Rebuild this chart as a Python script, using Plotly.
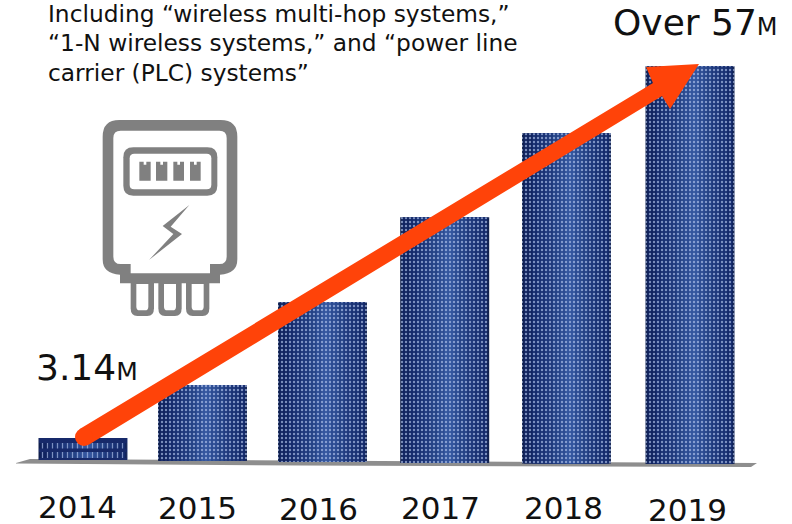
import plotly.graph_objects as go

# ---- data ----
years = [2014, 2015, 2016, 2017, 2018, 2019]
meters_millions = [3.14, 10.9, 22.9, 35.2, 47.3, 57]
first_label = "3.14"
last_label = "Over 57"
unit_label = "M"
note_lines = [
    "Including “wireless multi-hop systems,”",
    "“1-N wireless systems,” and “power line",
    "carrier (PLC) systems”",
]

# ---- layout constants ----
W, H = 792, 524
PX_PER_YEAR = 121.4
PX_PER_M = 6.98
X0_PX, Y0_PX = 83, 460
bar_drift_px = [0, -1.9, -3.3, -2.5, -2.1, 0]
bar_drop_px = [0, 1, 2, 3, 3.5, 4]
label_px = [(77, 506.5), (197, 507.5), (318, 508.5), (440, 508), (563, 508), (687, 509.5)]
BAR_W_PX = 89
gradient = [
    (1.00, "#101f4c"), (0.96, "#102360"), (0.86, "#142a6c"), (0.72, "#193174"),
    (0.56, "#1e387c"), (0.40, "#244286"), (0.24, "#2b4b92"), (0.10, "#33559e"),
]

def px(x, y):
    return x / W, 1 - y / H

def path(points, closed=True):
    out = []
    for i, p in enumerate(points):
        if p[0] == "Q":
            a = px(p[1], p[2]); b = px(p[3], p[4])
            out.append(f"Q{a[0]:.5f},{a[1]:.5f} {b[0]:.5f},{b[1]:.5f}")
        else:
            a = px(*p)
            out.append(("M" if i == 0 else "L") + f"{a[0]:.5f},{a[1]:.5f}")
    return " ".join(out) + (" Z" if closed else "")

def z(x, y):  # icon zoom coordinates to pixels
    return 80 + x / 3, 100 + y / 3

def rrect(x0, y0, x1, y1, r):
    return [
        (x0 + r, y0), (x1 - r, y0), ("Q", x1, y0, x1, y0 + r), (x1, y1 - r),
        ("Q", x1, y1, x1 - r, y1), (x0 + r, y1), ("Q", x0, y1, x0, y1 - r),
        (x0, y0 + r), ("Q", x0, y0, x0 + r, y0),
    ]

def zpoly(points):
    out = []
    for p in points:
        if p[0] == "Q":
            a = z(p[1], p[2]); b = z(p[3], p[4])
            out.append(("Q", a[0], a[1], b[0], b[1]))
        else:
            out.append(z(*p))
    return out

def zrrect(x0, y0, x1, y1, r):
    a = z(x0, y0); b = z(x1, y1)
    return rrect(a[0], a[1], b[0], b[1], r / 3)

GRAY = "#808080"
shapes = []
def fill(points, color, layer="above"):
    shapes.append(dict(type="path", xref="paper", yref="paper", path=path(points),
                       fillcolor=color, line=dict(width=0), layer=layer))

# baseline
fill([(16, 463), (30, 459), (757, 463), (751, 467), (300, 465.5), (16, 463.5)], "#8e8e8e", "below")

# darker bands that split the first short bar's dashes into rows
for y0, y1 in [(438, 443), (448.5, 452), (458, 460)]:
    fill([(39, y0), (127, y0), (127, y1), (39, y1)], "#17296a")

# meter icon: legs
for lx0, lx1 in [(152, 222), (235, 305), (318, 388)]:
    fill(zpoly([(lx0, 540), (lx1, 540), (lx1, 625), ("Q", lx1, 648, lx1 - 20, 648),
                (lx0 + 20, 648), ("Q", lx0, 648, lx0, 625)]), GRAY)
    fill(zpoly([(lx0 + 17, 552), (lx1 - 17, 552), (lx1 - 17, 620), ("Q", lx1 - 17, 631, lx1 - 27, 631),
                (lx0 + 27, 631), ("Q", lx0 + 17, 631, lx0 + 17, 620)]), "white")
# body
fill(zpoly([(118, 60), (422, 60), ("Q", 472, 60, 472, 110), (472, 478), ("Q", 472, 522, 420, 524),
            (420, 550), (120, 550), (120, 524), ("Q", 68, 522, 68, 478), (68, 110), ("Q", 68, 60, 118, 60)]), GRAY)
fill(zpoly([(122, 92), (418, 92), ("Q", 440, 92, 440, 114), (440, 470), ("Q", 440, 492, 418, 492),
            (390, 492), (390, 520), (152, 520), (152, 492), (122, 492), ("Q", 100, 492, 100, 470),
            (100, 114), ("Q", 100, 92, 122, 92)]), "white")
# display
fill(zrrect(130, 142, 412, 287, 30), GRAY)
fill(zrrect(149, 161, 394, 268, 14), "white")
for dx0, dx1 in [(178, 212), (228, 262), (280, 312), (330, 362)]:
    m = (dx0 + dx1) / 2
    fill(zpoly([(dx0, 185), (m - 4, 185), (m - 4, 194), (m + 4, 194), (m + 4, 185), (dx1, 185),
                (dx1, 242), (dx0, 242)]), GRAY)
# bolt
fill(zpoly([(328, 315), (248, 378), (280, 402), (207, 480), (306, 402), (272, 380)]), GRAY)

# orange arrow
ORANGE = "#ff4309"
fill([(79.3, 429.3), (653, 83), (646, 67), (699, 64), (670, 109), (662, 96), (88.7, 444.7)], ORANGE)
a = px(75, 428); b = px(93, 446)
shapes.append(dict(type="circle", xref="paper", yref="paper", x0=a[0], y0=a[1], x1=b[0], y1=b[1],
                   fillcolor=ORANGE, line=dict(width=0), layer="above"))

# ---- bars ----
bases = [-d / PX_PER_M for d in bar_drop_px]
traces = []
for frac, color in gradient:
    wpx = BAR_W_PX * frac
    centre_shift = 4 if frac < 0.9 else 0
    offs = [(d + centre_shift - wpx / 2) / PX_PER_YEAR for d in bar_drift_px]
    traces.append(go.Bar(x=years, y=meters_millions, base=bases, width=wpx / PX_PER_YEAR, offset=offs,
                         marker=dict(color=color, line=dict(width=0)), hoverinfo="skip", showlegend=False))
offs = [(d - BAR_W_PX / 2) / PX_PER_YEAR for d in bar_drift_px]
traces.append(go.Bar(
    x=years, y=meters_millions, base=bases, width=BAR_W_PX / PX_PER_YEAR, offset=offs,
    marker=dict(color="rgba(0,0,0,0)", line=dict(width=0),
                pattern=dict(shape=["|", ".", ".", ".", ".", "."], size=[5, 4, 4, 4, 4, 4],
                             solidity=[0.25, 0.28, 0.28, 0.28, 0.28, 0.28], fgcolor="#b4c6ee", fgopacity=0.65,
                             bgcolor="rgba(0,0,0,0)", fillmode="overlay")),
    hoverinfo="skip", showlegend=False))

# ---- text ----
FONT = "DejaVu Sans"
def text(x, y, s, size, anchor="left"):
    xp, yp = px(x, y)
    return dict(xref="paper", yref="paper", x=xp, y=yp, text=s, showarrow=False, xanchor=anchor, yanchor="middle",
                align="left", font=dict(family=FONT, size=size, color="#111111"), borderpad=0)

annotations = []
for (lx, ly), yr in zip(label_px, years):
    annotations.append(text(lx, ly, str(yr), 31, "center"))
for ly, line in zip([13, 43, 73], note_lines):
    annotations.append(text(47, ly, line, 23.3))
annotations.append(text(35, 367, first_label + f"<span style='font-size:25px'>{unit_label}</span>", 36))
annotations.append(text(612, 23, last_label + f"<span style='font-size:24px'>{unit_label}</span>", 36))

fig = go.Figure(traces)
fig.update_layout(
    width=W, height=H, margin=dict(l=0, r=0, t=0, b=0), barmode="overlay",
    paper_bgcolor="white", plot_bgcolor="white", showlegend=False,
    xaxis=dict(range=[2014 - X0_PX / PX_PER_YEAR, 2014 + (W - X0_PX) / PX_PER_YEAR], visible=False, fixedrange=True),
    yaxis=dict(range=[-(H - Y0_PX) / PX_PER_M, Y0_PX / PX_PER_M], visible=False, fixedrange=True),
    shapes=shapes, annotations=annotations,
)
fig.write_html("out.html", config=dict(displayModeBar=False),
               post_script="document.body.style.margin='0';document.body.style.overflow='hidden';")
